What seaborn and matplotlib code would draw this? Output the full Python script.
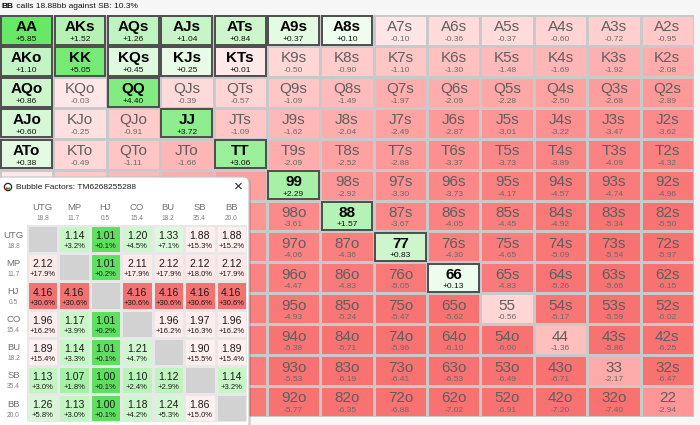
import numpy as np
import pandas as pd
import matplotlib
matplotlib.use('Agg')
import matplotlib.pyplot as plt
import seaborn as sns
from matplotlib.colors import LinearSegmentedColormap
from matplotlib.patches import Rectangle, FancyBboxPatch, Circle

# --- data ---
ranks = ['A', 'K', 'Q', 'J', 'T', '9', '8', '7', '6', '5', '4', '3', '2']

# EV (bb) per hand, row = first rank, upper triangle suited, lower offsuit
# (cells hidden under the popup are rough guesses)
ev = [
    [5.85, 1.52, 1.26, 1.04, 0.84, 0.37, 0.10, -0.10, -0.36, -0.37, -0.60, -0.72, -0.95],
    [1.10, 5.05, 0.45, 0.25, 0.01, -0.50, -0.90, -1.10, -1.30, -1.48, -1.69, -1.92, -2.08],
    [0.86, -0.03, 4.40, -0.39, -0.57, -1.09, -1.49, -1.97, -2.09, -2.28, -2.50, -2.68, -2.89],
    [0.60, -0.25, -0.91, 3.72, -1.09, -1.62, -2.04, -2.49, -2.87, -3.01, -3.22, -3.47, -3.62],
    [0.38, -0.49, -1.11, -1.66, 3.06, -2.09, -2.52, -2.88, -3.37, -3.73, -3.89, -4.09, -4.32],
    [-0.05, -0.95, -1.55, -2.05, -2.55, 2.29, -2.92, -3.30, -3.73, -4.17, -4.57, -4.74, -4.96],
    [-0.30, -1.40, -2.00, -2.55, -3.05, -3.61, 1.57, -3.67, -4.05, -4.45, -4.92, -5.34, -5.50],
    [-0.55, -1.70, -2.50, -3.00, -3.50, -4.06, -4.36, 0.83, -4.30, -4.65, -5.09, -5.54, -5.97],
    [-0.85, -1.95, -2.65, -3.40, -3.95, -4.47, -4.83, -5.05, 0.13, -4.83, -5.26, -5.66, -6.15],
    [-0.85, -2.15, -2.85, -3.55, -4.35, -4.93, -5.24, -5.47, -5.62, -0.56, -5.17, -5.59, -6.02],
    [-1.10, -2.40, -3.10, -3.80, -4.55, -5.38, -5.71, -5.96, -6.10, -6.00, -1.36, -5.86, -6.25],
    [-1.30, -2.65, -3.30, -4.05, -4.75, -5.53, -6.19, -6.41, -6.53, -6.49, -6.71, -2.17, -6.47],
    [-1.55, -2.85, -3.55, -4.25, -4.95, -5.77, -6.35, -6.88, -7.02, -6.91, -7.20, -7.40, -2.94],
]

bf_players = ['UTG', 'MP', 'HJ', 'CO', 'BU', 'SB', 'BB']
bf_stacks = [18.8, 11.7, 0.5, 15.4, 18.2, 35.4, 20.0]
nan = np.nan
bf = [
    [nan, 1.14, 1.01, 1.20, 1.33, 1.88, 1.88],
    [2.12, nan, 1.01, 2.11, 2.12, 2.12, 2.12],
    [4.16, 4.16, nan, 4.16, 4.16, 4.16, 4.16],
    [1.96, 1.17, 1.01, nan, 1.96, 1.97, 1.96],
    [1.89, 1.14, 1.01, 1.21, nan, 1.90, 1.89],
    [1.13, 1.07, 1.00, 1.10, 1.12, nan, 1.14],
    [1.26, 1.13, 1.00, 1.18, 1.24, 1.86, nan],
]
bf_pct = [
    [nan, 3.2, 0.1, 4.5, 7.1, 15.3, 15.2],
    [17.9, nan, 0.2, 17.9, 17.9, 18.0, 17.9],
    [30.6, 30.6, nan, 30.6, 30.6, 30.6, 30.6],
    [16.2, 3.9, 0.2, nan, 16.2, 16.3, 16.2],
    [15.4, 3.3, 0.1, 4.7, nan, 15.5, 15.4],
    [3.0, 1.8, 0.1, 2.4, 2.9, nan, 3.2],
    [5.8, 3.0, 0.1, 4.2, 5.3, 15.0, nan],
]

plt.rcParams['font.family'] = ['Liberation Sans', 'DejaVu Sans']

W, H = 700, 425
fig = plt.figure(figsize=(7, 4.25), dpi=100, facecolor='#f6f6f6')


def fx(px):
    return px / W


def fy(py):
    return 1 - py / H


# --- colormaps ---
def make_cmap(stops, vmin, vmax):
    pos = [(v - vmin) / (vmax - vmin) for v, _ in stops]
    return LinearSegmentedColormap.from_list('c', list(zip(pos, [c for _, c in stops])))


ev_min, ev_max = -5.6, 5.9
ev_cmap = make_cmap([
    (-5.6, '#f87272'), (-4.0, '#fb8383'), (-3.0, '#fd9696'), (-2.0, '#feaeae'),
    (-1.0, '#ffc8c8'), (-0.4, '#ffdada'), (-0.005, '#ffe9e9'), (0.0, '#ffffff'),
    (0.005, '#f2fef2'), (0.8, '#cff6cf'), (1.5, '#b6f2b6'), (3.0, '#9cef9c'),
    (4.4, '#82ec82'), (5.9, '#66e866'),
], ev_min, ev_max)

bf_min, bf_max = 1.0, 4.16
bf_cmap = make_cmap([
    (1.0, '#5fdf5f'), (1.015, '#68e168'), (1.07, '#b2f2b2'), (1.14, '#c8f6c8'),
    (1.35, '#e0fae0'), (1.6, '#fdfdfd'), (1.86, '#fff0f0'), (2.12, '#ffe8e8'),
    (4.16, '#f27272'),
], bf_min, bf_max)

# --- main hand grid ---
hands = []
for i in range(13):
    row = []
    for j in range(13):
        if i == j:
            row.append(ranks[i] + ranks[j])
        elif j > i:
            row.append(ranks[i] + ranks[j] + 's')
        else:
            row.append(ranks[j] + ranks[i] + 'o')
    hands.append(row)

df = pd.DataFrame(ev, index=ranks, columns=ranks)

ax = fig.add_axes([0, fy(417), fx(694), 402 / H])
sns.heatmap(df, cmap=ev_cmap, vmin=ev_min, vmax=ev_max, cbar=False,
            linewidths=0.8, linecolor='#c9c9c9', xticklabels=False,
            yticklabels=False, ax=ax)
ax.set_xlabel('')
ax.set_ylabel('')

for i in range(13):
    for j in range(13):
        v = ev[i][j]
        # cells under the popup window: labels are not visible
        if i >= 5 and j <= 4:
            continue
        inr = v > 0
        ax.text(j + 0.5, i + 0.4, hands[i][j], ha='center', va='center',
                fontsize=11, fontweight='bold' if inr else 'normal',
                color='#000000' if inr else '#5e5e5e')
        ax.text(j + 0.5, i + 0.79, f'{v:+.2f}', ha='center', va='center',
                fontsize=6, color='#111111' if inr else '#6a6a6a')
        if inr:
            ax.add_patch(Rectangle((j + 0.025, i + 0.04), 0.95, 0.92, fill=False,
                                   lw=1.4, ec='#4d4d4d'))

# header line
t1 = fig.text(fx(2), fy(7), 'BB', fontsize=6, fontweight='bold', va='center', ha='left')
ax.annotate(' calls 18.88bb against SB: 10.3%', xy=(1, 0.5), xycoords=t1,
            va='center', ha='left', fontsize=6, color='#111111')

# --- bubble factors popup ---
fr = fig.add_axes([0, 0, fx(252), 252 / H], zorder=3)
fr.set_xlim(0, 252)
fr.set_ylim(425, 173)
fr.axis('off')
fr.add_patch(FancyBboxPatch((-2, 178.5), 253, 260, boxstyle='round,pad=0,rounding_size=6',
                            fc='#000000', alpha=0.12, ec='none'))
fr.add_patch(FancyBboxPatch((-3, 177), 252, 260, boxstyle='round,pad=0,rounding_size=6',
                            fc='#ffffff', ec='#c4c4c4', lw=0.8))
fr.add_patch(Circle((8, 187), 3.6, fc='#ffffff', ec='#222222', lw=0.9))
fr.add_patch(Circle((6.8, 188.6), 1.3, fc='#e03030', ec='none'))
fr.add_patch(Circle((9.2, 188.6), 1.3, fc='#30b030', ec='none'))
fr.text(16, 187, 'Bubble Factors: TM6268255288', fontsize=6, va='center', ha='left',
        color='#1a1a1a')
fr.text(238, 186.5, '\u00d7', fontsize=11, va='center', ha='center', color='#222222')

col_w = 31.4
row_h = 28.2
for k, (p, s) in enumerate(zip(bf_players, bf_stacks)):
    cx = 27 + col_w * (k + 0.5)
    fr.text(cx, 207, p, fontsize=6.8, ha='center', va='center', color='#707070')
    fr.text(cx, 218, f'{s:.1f}', fontsize=4.8, ha='center', va='center', color='#808080')
    ry = 225 + row_h * k
    fr.text(13.5, ry + 10, p, fontsize=6.8, ha='center', va='center', color='#707070')
    fr.text(13.5, ry + 21, f'{s:.1f}', fontsize=4.8, ha='center', va='center', color='#808080')

bf_df = pd.DataFrame(bf, index=bf_players, columns=bf_players)
tb = fig.add_axes([fx(27), fy(422.4), fx(220), 197.4 / H], zorder=4)
tb.set_facecolor('#d2d2d2')
sns.heatmap(bf_df, cmap=bf_cmap, vmin=bf_min, vmax=bf_max, cbar=False,
            linewidths=0.8, linecolor='#e8e8e8', xticklabels=False,
            yticklabels=False, ax=tb)
tb.set_xlabel('')
tb.set_ylabel('')
for i in range(7):
    for j in range(7):
        if np.isnan(bf[i][j]):
            continue
        tb.text(j + 0.5, i + 0.4, f'{bf[i][j]:.2f}', ha='center', va='center',
                fontsize=7.5, color='#1a1a1a')
        tb.text(j + 0.5, i + 0.77, f'+{bf_pct[i][j]:.1f}%', ha='center', va='center',
                fontsize=5.5, color='#1a1a1a')

plt.savefig('out.png', dpi=100, facecolor=fig.get_facecolor())
